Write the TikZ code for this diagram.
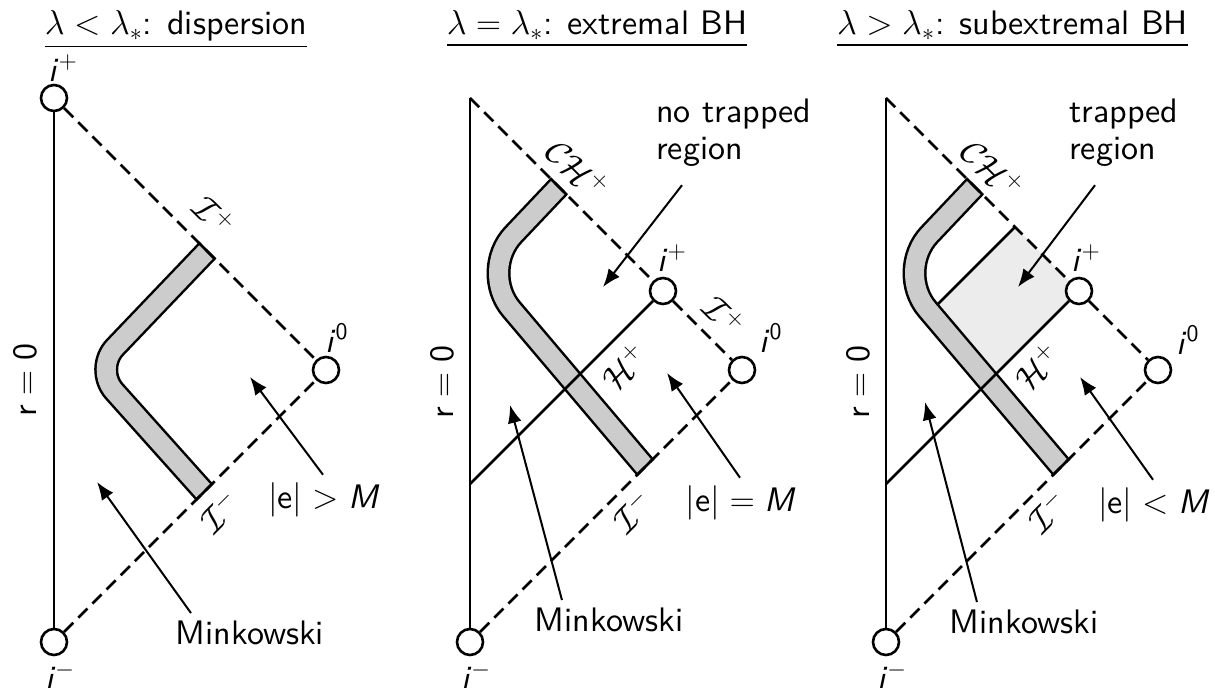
\documentclass[tikz,border=0pt]{standalone}
\usepackage{tikz}
\usepackage{xcolor}
\usepackage{amsmath}
\usepackage{amssymb}
\usepackage{fontspec}
\setsansfont{lmsans10-regular.otf}[ItalicFont=lmsans10-oblique.otf, BoldFont=lmsans10-bold.otf]
\usetikzlibrary{shapes,arrows,arrows.meta,positioning}

\tikzset{
  dot/.style={circle, draw, fill=white, line width=1.3pt, minimum size=13pt, inner sep=0pt},
  nullinf/.style={dash pattern=on 6.5pt off 3.5pt, line width=1.3pt},
  shell/.style={double=gray!40, double distance=9.5pt, line width=1.25pt},
  pointer/.style={->, line width=1pt},
}
\newcommand{\ivar}{\textit{i}}

\begin{document}
\begin{tikzpicture}[x=5pt, y=5pt, line width=1.3pt, >={Latex[length=9pt,width=7pt]},
  every node/.style={font=\sffamily\fontsize{17}{18.5}\selectfont}]
\useasboundingbox (0,0) rectangle (121.5,68.8);

% dispersion
\begin{scope}[shift={(5.4,4.6)}]
\node[anchor=base] (title1) at (12.2,60.7) {\underline{$\lambda<\lambda_*$: dispersion}};
\node[dot] (iplus1) at (0,54.4) {};
\node[dot] (iminus1) at (0,0) {};
\node[dot] (izero1) at (27.2,27.2) {};
\begin{scope}
\clip (0,0) -- (27.2,27.2) -- (0,54.4) -- cycle;
\draw[shell, rounded corners=15pt] (16.43,40.28) -- (4.03,27.3) -- (16.12,13.79);
\end{scope}
\draw (14.46,39.94) -- (16.14,38.26);
\draw (14.18,14.18) -- (15.86,15.86);
\draw (iminus1) -- (iplus1);
\draw[nullinf] (iplus1) -- (izero1);
\draw[nullinf] (iminus1) -- (izero1);

\node (lplus1) at (0.9,57.4) {\ivar$^+$};
\node (lminus1) at (0.6,-3.4) {\ivar$^-$};
\node (lzero1) at (28.3,30.4) {\ivar$^{\text{0}}$};
\node[rotate=90] (rzero1) at (-2.9,26.2) {$\text{r}=\text{0}$};
\node[rotate=-45] (scriplus1) at (16.0,42.6) {$\mathcal{I}^+$};
\node[rotate=45] (scriminus1) at (16.6,13.0) {$\mathcal{I}^-$};

\node (charge1) at (26.9,14.2) {$|\text{e}|>\text{\itshape M}$};
\coordinate (chend1) at (19.6,26.5);
\draw[pointer] (charge1.north) -- (chend1);
\node (mink1) at (19.6,0.9) {Minkowski};
\coordinate (mkend1) at (4.3,16.0);
\draw[pointer] ([xshift=11.5pt]mink1.north west) -- (mkend1);
\end{scope}

% extremal
\begin{scope}[shift={(47.0,4.6)}]
\node[anchor=base] (title2) at (12.7,60.7) {\underline{$\lambda=\lambda_*$: extremal BH}};
\coordinate (top2) at (0,54.4);
\coordinate (hor2) at (0,15.8);
\node[dot] (iplus2) at (19.3,35.1) {};
\node[dot] (iminus2) at (0,0) {};
\node[dot] (izero2) at (27.2,27.2) {};
\begin{scope}
\clip (0,0) -- (27.2,27.2) -- (0,54.4) -- cycle;
\draw[shell, rounded corners=25pt] (9.67,46.37) -- (0.9,37.1) -- (19.16,15.54);
\end{scope}
\draw (8.03,46.37) -- (9.71,44.69);
\draw (16.66,16.66) -- (18.34,18.34);
\draw (hor2) -- (iplus2);
\draw (iminus2) -- (top2);
\draw[nullinf] (top2) -- (iplus2);
\draw[nullinf] (iplus2) -- (izero2);
\draw[nullinf] (iminus2) -- (izero2);

\node (lplus2) at (20.2,38.4) {\ivar$^+$};
\node (lminus2) at (0.6,-3.4) {\ivar$^-$};
\node (lzero2) at (30.1,30.4) {\ivar$^{\text{0}}$};
\node[rotate=90] (rzero2) at (-2.8,26.0) {$\text{r}=\text{0}$};
\node[rotate=-45] (cauchy2) at (10.8,47.3) {$\mathcal{CH}^+$};
\node[rotate=-45] (scriplus2) at (25.4,32.6) {$\mathcal{I}^+$};
\node[rotate=45] (horizon2) at (15.4,27.5) {$\mathcal{H}^+$};
\node[rotate=45] (scriminus2) at (16.3,13.0) {$\mathcal{I}^-$};

\node[anchor=north west, align=left, inner sep=0pt] (notrap2) at (18.5,54.4) {no trapped\\region};
\coordinate (ntend2) at (13.3,35.5);
\draw[pointer] ([xshift=13.5pt,yshift=-8.5pt]notrap2.south west) -- (ntend2);
\node (charge2) at (27.0,13.9) {$|\text{e}|=\text{\itshape M}$};
\coordinate (chend2) at (19.7,26.9);
\draw[pointer] (charge2.north) -- (chend2);
\node (mink2) at (13.9,2.2) {Minkowski};
\coordinate (mkend2) at (4.0,23.7);
\draw[pointer] ([xshift=17.5pt]mink2.north west) -- (mkend2);
\end{scope}

% subextremal
\begin{scope}[shift={(88.6,4.6)}]
\node[anchor=base] (title3) at (12.65,60.7) {\underline{$\lambda>\lambda_*$: subextremal BH}};
\coordinate (top3) at (0,54.4);
\coordinate (hor3) at (0,15.8);
\coordinate (ipc3) at (19.3,35.1);
\coordinate (app3) at (12.9,41.5);
\fill[gray!15] (4.5,33.1) -- (app3) -- (ipc3) -- (10.3,26.1) -- cycle;
\draw (4.5,33.1) -- (app3);
\node[dot] (iplus3) at (ipc3) {};
\node[dot] (iminus3) at (0,0) {};
\node[dot] (izero3) at (27.2,27.2) {};
\begin{scope}
\clip (0,0) -- (27.2,27.2) -- (0,54.4) -- cycle;
\draw[shell, rounded corners=25pt] (9.67,46.37) -- (0.9,37.1) -- (19.16,15.54);
\end{scope}
\draw (8.03,46.37) -- (9.71,44.69);
\draw (16.66,16.66) -- (18.34,18.34);
\draw (hor3) -- (iplus3);
\draw (iminus3) -- (top3);
\draw[nullinf] (top3) -- (iplus3);
\draw[nullinf] (iplus3) -- (izero3);
\draw[nullinf] (iminus3) -- (izero3);

\node (lplus3) at (20.0,38.4) {\ivar$^+$};
\node (lminus3) at (0.6,-3.4) {\ivar$^-$};
\node (lzero3) at (30.2,30.2) {\ivar$^{\text{0}}$};
\node[rotate=90] (rzero3) at (-2.8,26.0) {$\text{r}=\text{0}$};
\node[rotate=-45] (cauchy3) at (10.7,47.3) {$\mathcal{CH}^+$};
\node[rotate=45] (horizon3) at (15.1,27.5) {$\mathcal{H}^+$};
\node[rotate=45] (scriminus3) at (16.2,13.0) {$\mathcal{I}^-$};

\node[anchor=north west, align=left, inner sep=0pt] (trap3) at (18.2,54.4) {trapped\\region};
\coordinate (trend3) at (13.2,35.5);
\draw[pointer] ([xshift=13.5pt,yshift=-8.5pt]trap3.south west) -- (trend3);
\node (charge3) at (26.7,13.7) {$|\text{e}|<\text{\itshape M}$};
\coordinate (chend3) at (19.4,26.5);
\draw[pointer] (charge3.north) -- (chend3);
\node (mink3) at (13.8,2.0) {Minkowski};
\coordinate (mkend3) at (3.9,24.0);
\draw[pointer] ([xshift=17.5pt]mink3.north west) -- (mkend3);
\end{scope}
\end{tikzpicture}
\end{document}
